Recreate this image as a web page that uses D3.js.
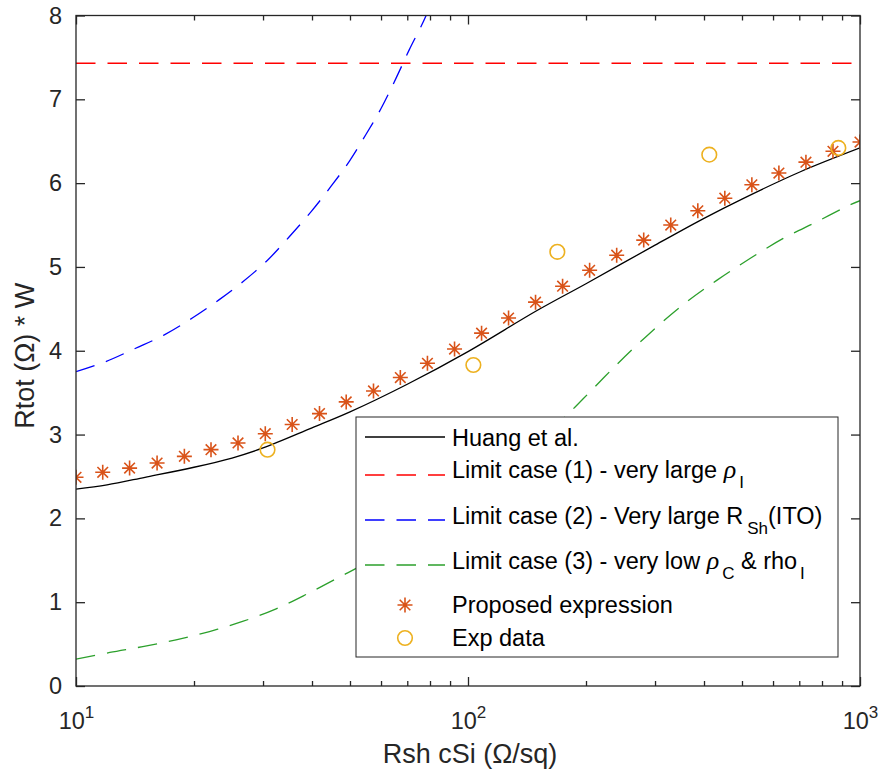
<!DOCTYPE html>
<html><head><meta charset="utf-8">
<script src="https://cdn.jsdelivr.net/npm/d3@7"></script>
<style>body{margin:0;background:#fff} svg{display:block} text{font-family:"Liberation Sans",Arial,sans-serif}</style>
</head><body><svg id="c" width="880" height="778"></svg>
<script>
// ---------- data ----------
const xTickValues = [10, 100, 1000];
const yTickValues = [0, 1, 2, 3, 4, 5, 6, 7, 8];
const xMinorTicks = [20, 30, 40, 50, 60, 70, 80, 90, 200, 300, 400, 500, 600, 700, 800, 900];

const huangX = [10, 12, 15, 20, 25, 30, 40, 50, 70, 100, 150, 200, 300, 400, 500, 700, 1000];
const huangY = [2.35, 2.40, 2.49, 2.61, 2.72, 2.84, 3.08, 3.27, 3.60, 3.99, 4.48, 4.80, 5.26, 5.58, 5.81, 6.13, 6.42];

const limit1X = [10, 1000];
const limit1Y = [7.43, 7.43];

const limit2X = [10, 11.9, 14.2, 16.8, 19.8, 23.2, 26.6, 30.8, 35.0, 39.8, 44.7, 49.8, 54.9, 60.0, 65.5, 70.8, 78.2, 85];
const limit2Y = [3.75, 3.87, 4.03, 4.19, 4.39, 4.61, 4.82, 5.08, 5.36, 5.66, 5.96, 6.26, 6.58, 6.89, 7.25, 7.59, 8.0, 8.45];

const limit3X = [10, 12.2, 14.8, 18.0, 21.9, 26.6, 32.4, 39.3, 47.9, 51.7, 70, 100, 130, 176.6, 197, 239, 291, 354, 431, 524, 637, 776, 952, 1000];
const limit3Y = [0.32, 0.40, 0.47, 0.55, 0.65, 0.77, 0.92, 1.11, 1.32, 1.40, 1.76, 2.25, 2.66, 3.21, 3.43, 3.83, 4.21, 4.55, 4.84, 5.10, 5.34, 5.54, 5.75, 5.79];

const proposedX = [10.0, 11.7, 13.7, 16.1, 18.9, 22.1, 25.9, 30.4, 35.6, 41.8, 48.9, 57.4, 67.2, 78.8, 92.4, 108.3, 126.9, 148.7, 174.3, 204.3, 239.5, 280.7, 329.0, 385.7, 452.0, 529.8, 621.0, 727.9, 853.2, 1000];
const proposedY = [2.49, 2.55, 2.60, 2.66, 2.74, 2.82, 2.90, 3.01, 3.12, 3.25, 3.39, 3.52, 3.68, 3.85, 4.02, 4.21, 4.39, 4.58, 4.77, 4.96, 5.14, 5.32, 5.50, 5.67, 5.82, 5.98, 6.12, 6.25, 6.38, 6.49];

const expX = [30.8, 103.2, 169, 412.6, 880.6];
const expY = [2.82, 3.83, 5.18, 6.34, 6.42];

// ---------- layout ----------
const svg = d3.select("#c");
const L = 76, R = 860, T = 15.5, B = 686;
const AX = "#262626";
const FS = 23.5;
const x = d3.scaleLog().domain([10, 1000]).range([L, R]);
const y = d3.scaleLinear().domain([0, 8]).range([B, T]);

svg.append("defs").append("clipPath").attr("id", "clip")
  .append("rect").attr("x", L).attr("y", T).attr("width", R - L).attr("height", B - T);

const zip = (X, Y) => X.map((v, i) => [v, Y[i]]);
const line = d3.line().x(d => x(d[0])).y(d => y(d[1])).curve(d3.curveCatmullRom.alpha(0.5));
const plot = svg.append("g").attr("clip-path", "url(#clip)");

const DASH = "19.5,12";
const series = [
  {X: huangX, Y: huangY, color: "#000", dash: null},
  {X: limit1X, Y: limit1Y, color: "#ff0000", dash: DASH},
  {X: limit2X, Y: limit2Y, color: "#0000ff", dash: DASH},
  {X: limit3X, Y: limit3Y, color: "#2ca02c", dash: DASH}
];
series.forEach(s => {
  plot.append("path").datum(zip(s.X, s.Y)).attr("d", line)
    .attr("fill", "none").attr("stroke", s.color).attr("stroke-width", 1.3)
    .attr("stroke-dasharray", s.dash);
});

function starPath(s) {
  const d = s * 0.7071;
  return `M${-s},0L${s},0M0,${-s}L0,${s}M${-d},${-d}L${d},${d}M${-d},${d}L${d},${-d}`;
}
const STAR = "#d95319", CIRC = "#edb120";
plot.selectAll(".star").data(zip(proposedX, proposedY)).enter().append("path")
  .attr("transform", d => `translate(${x(d[0])},${y(d[1])})`)
  .attr("d", starPath(7.5)).attr("stroke", STAR).attr("stroke-width", 1.6).attr("fill", "none");
plot.selectAll(".circ").data(zip(expX, expY)).enter().append("circle")
  .attr("cx", d => x(d[0])).attr("cy", d => y(d[1])).attr("r", 7.3)
  .attr("stroke", CIRC).attr("stroke-width", 1.6).attr("fill", "none");

// ---------- axes ----------
function styleAxis(g) {
  g.select(".domain").remove();
  g.selectAll(".tick line").attr("stroke", AX).attr("stroke-width", 1.3);
  g.selectAll(".tick text").attr("fill", AX).attr("font-size", FS).attr("font-family", '"Liberation Sans",Arial,sans-serif');
}
const gB = svg.append("g").attr("transform", `translate(0,${B})`)
  .call(d3.axisBottom(x).tickValues(xTickValues).tickSize(-9).tickPadding(26.5).tickFormat(d => d)).call(styleAxis);
gB.selectAll(".tick text").each(function(d) {
  const t = d3.select(this);
  t.text(null);
  t.append("tspan").text("10");
  t.append("tspan").attr("dy", -11).attr("font-size", 17).text(Math.round(Math.log10(d)));
});
svg.append("g").attr("transform", `translate(0,${B})`)
  .call(d3.axisBottom(x).tickValues(xMinorTicks).tickSize(-5).tickFormat("")).call(styleAxis);
svg.append("g").attr("transform", `translate(0,${T})`)
  .call(d3.axisTop(x).tickValues(xTickValues).tickSize(-9).tickFormat("")).call(styleAxis);
svg.append("g").attr("transform", `translate(0,${T})`)
  .call(d3.axisTop(x).tickValues(xMinorTicks).tickSize(-5).tickFormat("")).call(styleAxis);
svg.append("g").attr("transform", `translate(${L},0)`)
  .call(d3.axisLeft(y).tickValues(yTickValues).tickSize(-9).tickPadding(14).tickFormat(d3.format("d"))).call(styleAxis);
svg.append("g").attr("transform", `translate(${R},0)`)
  .call(d3.axisRight(y).tickValues(yTickValues).tickSize(-9).tickFormat("")).call(styleAxis);

svg.append("rect").attr("x", L).attr("y", T).attr("width", R - L).attr("height", B - T)
  .attr("fill", "none").attr("stroke", AX).attr("stroke-width", 1.3);

// axis labels
svg.append("text").attr("x", 470).attr("y", 763).attr("text-anchor", "middle")
  .attr("font-size", 27).attr("fill", AX).text("Rsh cSi (Ω/sq)");
svg.append("text").attr("transform", `translate(34,${(T + B) / 2 + 5}) rotate(-90)`).attr("text-anchor", "middle")
  .attr("font-size", 27).attr("fill", AX).text("Rtot (Ω) * W");

// ---------- legend ----------
const lg = svg.append("g");
lg.append("rect").attr("x", 356).attr("y", 417).attr("width", 482).attr("height", 240)
  .attr("fill", "#fff").attr("stroke", AX).attr("stroke-width", 1);
const lx0 = 365, lx1 = 445, tx = 452;
function legLine(yy, color, dash) {
  lg.append("line").attr("x1", lx0).attr("x2", lx1).attr("y1", yy).attr("y2", yy)
    .attr("stroke", color).attr("stroke-width", 1.3).attr("stroke-dasharray", dash);
}
function legText(yy) {
  return lg.append("text").attr("x", tx).attr("y", yy).attr("font-size", FS).attr("fill", "#000");
}
legLine(437, "#000", null);
legText(446).text("Huang et al.");

legLine(475, "#ff0000", DASH);
let t1 = legText(478);
t1.append("tspan").text("Limit case (1) - very large ");
t1.append("tspan").attr("font-family", '"Liberation Serif",serif').attr("font-style", "italic").attr("font-size", 26).text("ρ");
t1.append("tspan").attr("font-size", 17).attr("dy", 10).attr("dx", 3).text("I");

legLine(520, "#0000ff", DASH);
let t2 = legText(524);
t2.append("tspan").text("Limit case (2) - Very large R");
t2.append("tspan").attr("font-size", 17).attr("dy", 10).attr("dx", 4).text("Sh");
t2.append("tspan").attr("dy", -10).text("(ITO)");

legLine(565, "#2ca02c", DASH);
let t3 = legText(569);
t3.append("tspan").text("Limit case (3) - very low ");
t3.append("tspan").attr("font-family", '"Liberation Serif",serif').attr("font-style", "italic").attr("font-size", 26).text("ρ");
t3.append("tspan").attr("font-size", 17).attr("dy", 10).attr("dx", 3).text("C");
t3.append("tspan").attr("dy", -10).text(" & rho");
t3.append("tspan").attr("font-size", 17).attr("dy", 10).attr("dx", 3).text("I");

lg.append("path").attr("transform", "translate(405,605)").attr("d", starPath(7.5))
  .attr("stroke", STAR).attr("stroke-width", 1.6).attr("fill", "none");
legText(613).text("Proposed expression");
lg.append("circle").attr("cx", 405).attr("cy", 638).attr("r", 7.3)
  .attr("stroke", CIRC).attr("stroke-width", 1.6).attr("fill", "none");
legText(646).text("Exp data");
</script></body></html>
